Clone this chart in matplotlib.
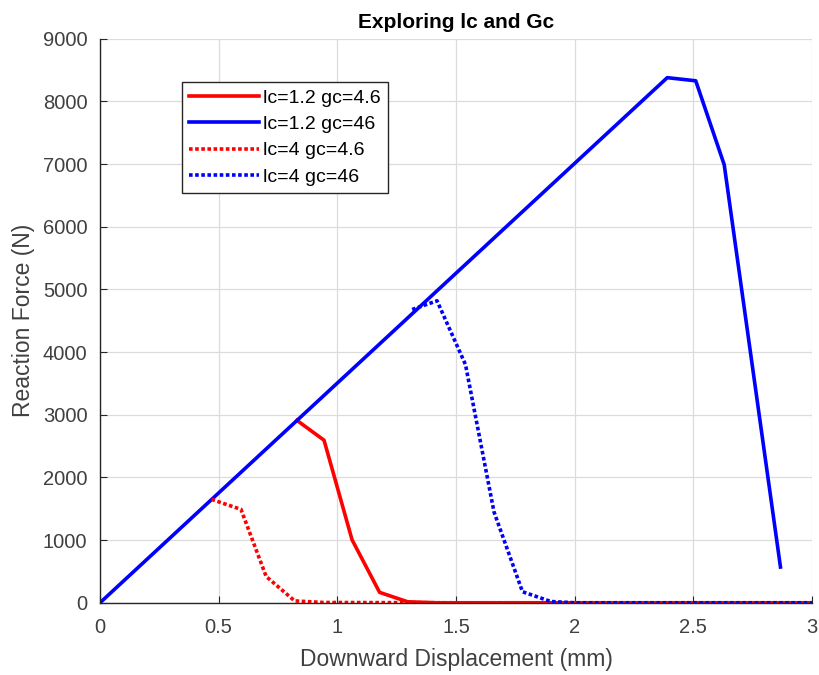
import matplotlib; matplotlib.use('Agg')

import matplotlib.pyplot as plt

plt.rcParams['font.family'] = ['Liberation Sans', 'DejaVu Sans']

# lc=1.2 gc=4.6
x_a = [0.83, 0.944, 1.062, 1.178, 1.296, 1.42, 1.6, 2.0, 2.5, 3.0]
y_a = [2910, 2594, 1005, 166, 16, 0, 0, 0, 0, 0]
# lc=1.2 gc=46
x_b = [0, 2.39, 2.51, 2.63, 2.867]
y_b = [0, 8380, 8330, 6990, 570]
# lc=4 gc=4.6
x_c = [0.47, 0.594, 0.70, 0.82, 0.94, 1.5, 2.0, 2.5, 3.0]
y_c = [1650, 1490, 420, 30, 5, 0, 0, 0, 0]
# lc=4 gc=46
x_d = [1.315, 1.42, 1.54, 1.66, 1.78, 1.90, 2.0, 2.5, 3.0]
y_d = [4680, 4819, 3800, 1450, 176, 20, 0, 0, 0]

labels = ["lc=1.2 gc=4.6", "lc=1.2 gc=46", "lc=4 gc=4.6", "lc=4 gc=46"]

fig = plt.figure(figsize=(8.19, 6.75), dpi=100)
ax = fig.add_axes([0.1221, 0.107, 0.8694, 0.8355])

ax.plot(x_a, y_a, color='#ff0000', lw=2.6, label=labels[0])
ax.plot(x_b, y_b, color='#0000ff', lw=2.6, label=labels[1])
ax.plot(x_c, y_c, color='#ff0000', lw=2.6, ls=(0, (1, 0.7)), label=labels[2])
ax.plot(x_d, y_d, color='#0000ff', lw=2.6, ls=(0, (1, 0.7)), label=labels[3])

ax.set_xlim(0, 3)
ax.set_ylim(0, 9000)
ax.set_xticks([0, 0.5, 1, 1.5, 2, 2.5, 3])
ax.set_xticklabels(["0", "0.5", "1", "1.5", "2", "2.5", "3"])
ax.set_yticks(range(0, 9001, 1000))
ax.grid(True, color='#dcdcdc', lw=0.9)
ax.set_axisbelow(True)
for s in ['top', 'right']:
    ax.spines[s].set_visible(False)
for s in ['left', 'bottom']:
    ax.spines[s].set_color('#262626')
    ax.spines[s].set_linewidth(1.0)
ax.tick_params(direction='in', length=5, labelsize=14.5, colors='#262626',
               labelcolor='#404040')
ax.tick_params(axis='x', pad=11)
ax.tick_params(axis='y', pad=9)

ax.set_title("Exploring lc and Gc", fontsize=15, fontweight='bold', pad=8)
ax.set_xlabel("Downward Displacement (mm)", fontsize=16.5, color='#404040', labelpad=8)
ax.set_ylabel("Reaction Force (N)", fontsize=16.5, color='#404040', labelpad=6)

leg = ax.legend(loc='upper left', bbox_to_anchor=(0.115, 0.924), fontsize=14,
                handlelength=3.6, handletextpad=0.2, borderpad=0.38,
                labelspacing=0.45, borderaxespad=0, fancybox=False,
                framealpha=1, edgecolor='#262626')
leg.get_frame().set_linewidth(1.0)

plt.savefig("out.png", dpi=100)
